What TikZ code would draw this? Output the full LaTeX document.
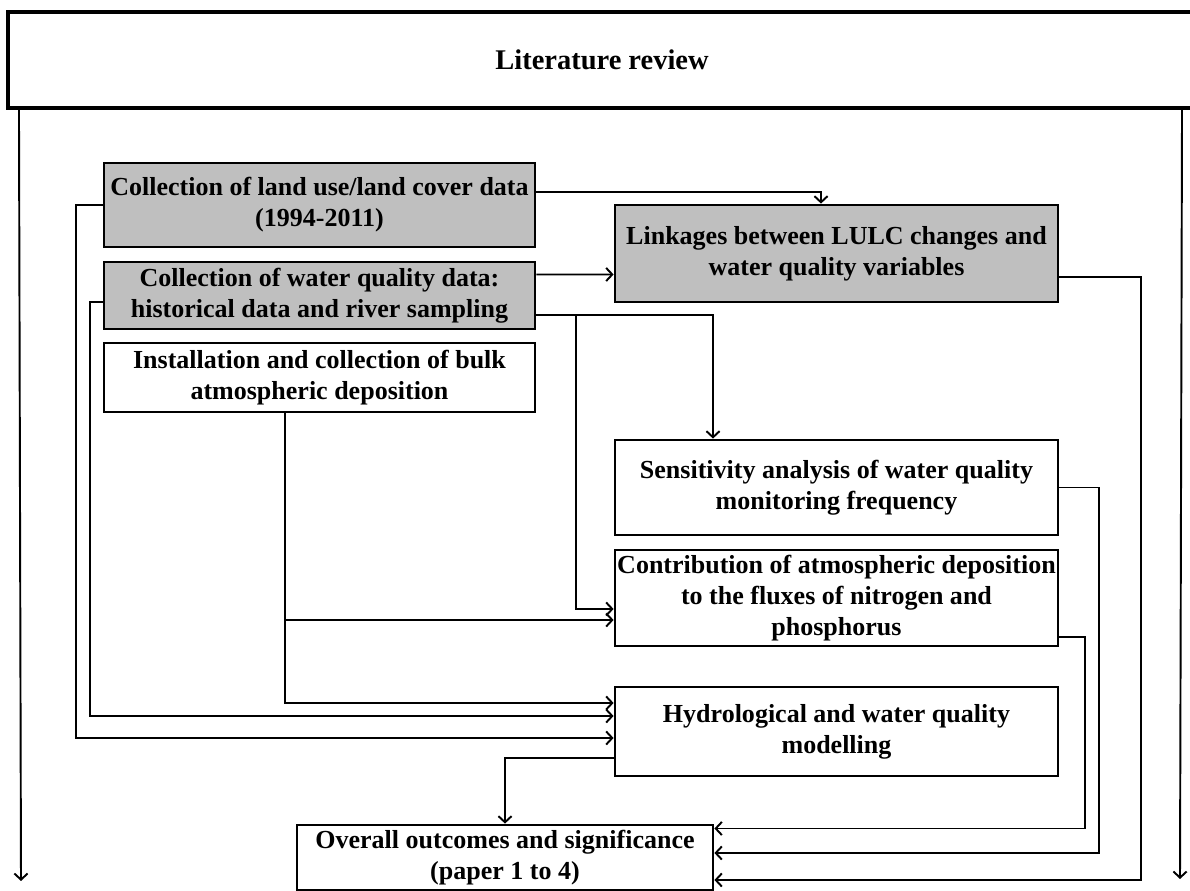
\documentclass[tikz,border=0pt]{standalone}
\usepackage{fontspec}
\setmainfont{Liberation Serif}
\usepackage{xcolor}
\usetikzlibrary{arrows.meta}
\definecolor{boxgray}{HTML}{BFBFBF}

\begin{document}
\begin{tikzpicture}[
    box/.style={draw, line width=1.6pt, align=center, inner sep=0pt,
      font=\bfseries\fontsize{14.8}{17.6}\selectfont},
    greybox/.style={box, fill=boxgray},
    arr/.style={line width=1.1pt, -{Straight Barb[length=3.5pt,width=7.5pt]}},
  ]
  \useasboundingbox (0,0) rectangle (23.8,-17.82);
  \node[box, line width=2.3pt, minimum width=23.76cm, minimum height=1.92cm,
    font=\bfseries\fontsize{16.2}{19}\selectfont] (lr) at (12.04,-1.2) {Literature review};

  \node[greybox, minimum width=8.62cm, minimum height=1.68cm] (luc) at (6.39,-4.10)
    {Collection of land use/land cover data\\(1994-2011)};
  \node[greybox, minimum width=8.62cm, minimum height=1.34cm] (wq) at (6.39,-5.91)
    {Collection of  water quality data:\\historical data and river sampling};
  \node[box, minimum width=8.62cm, minimum height=1.38cm] (dep) at (6.39,-7.55)
    {Installation and collection of bulk\\atmospheric deposition};

  \node[greybox, minimum width=8.86cm, minimum height=1.94cm] (link) at (16.73,-5.07)
    {Linkages between LULC changes and\\water quality variables};
  \node[box, minimum width=8.86cm, minimum height=1.90cm] (sens) at (16.73,-9.75)
    {Sensitivity analysis of water quality\\monitoring frequency};
  \node[box, minimum width=8.86cm, minimum height=1.92cm] (contr) at (16.73,-11.96)
    {Contribution of atmospheric deposition\\to the fluxes of nitrogen and\\phosphorus};
  \node[box, minimum width=8.86cm, minimum height=1.78cm] (hydro) at (16.73,-14.63)
    {Hydrological and water quality\\modelling};
  \node[box, minimum width=8.32cm, minimum height=1.30cm] (out) at (10.10,-17.15)
    {Overall outcomes and significance\\(paper 1 to 4)};

  % inputs
  \draw[arr] ([yshift=0.26cm]luc.east) -| ([xshift=-0.31cm]link.north);
  \draw[arr] ([yshift=0.42cm]wq.east) -- ([yshift=-0.42cm]link.west);
  \draw[arr] (luc.west) -- ++(-0.54,0) |- ([yshift=-0.13cm]hydro.west);
  \draw[arr] ([yshift=-0.13cm]wq.west) -- ++(-0.26,0) |- ([yshift=0.31cm]hydro.west);
  \draw[arr] ([xshift=-0.69cm]dep.south) |- ([yshift=0.57cm]hydro.west);
  \draw[arr] ([xshift=-0.69cm]dep.south) |- ([yshift=-0.44cm]contr.west);
  \draw[arr] ([yshift=-0.39cm]wq.east) -| ([xshift=-2.47cm]sens.north);
  \draw[arr] ([yshift=-0.39cm]wq.east) -- ++(0.8,0) |- ([yshift=-0.22cm]contr.west);

  % outcomes
  \draw[arr] ([yshift=-0.47cm]link.east) -- ++(1.64,0) |- ([yshift=-0.45cm]out.east);
  \draw[arr] (sens.east) -- ++(0.80,0) |- ([yshift=0.09cm]out.east);
  \draw[arr] ([yshift=-0.78cm]contr.east) -- ++(0.52,0) |- ([yshift=0.58cm]out.east);
  \draw[arr] ([yshift=-0.53cm]hydro.west) -| (out.north);

  % literature review sides
  \coordinate (endL) at (0.42,-17.62);
  \coordinate (endR) at (23.60,-17.58);
  \draw[arr] ([xshift=0.26cm]lr.south west) -- (endL);
  \draw[arr] ([xshift=-0.32cm]lr.south east) -- (endR);
\end{tikzpicture}
\end{document}
